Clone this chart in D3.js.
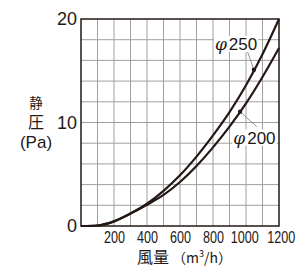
<!DOCTYPE html>
<html>
<head>
<meta charset="utf-8">
<script src="https://cdn.jsdelivr.net/npm/d3@7"></script>
<style>
body{margin:0;background:#fff;}
text{fill:#231815;}
</style>
</head>
<body>
<div id="chart"></div>
<script>
// 風量 (m3/h) vs 静圧 (Pa)
var flow = [0,100,200,300,400,500,600,700,800,900,1000,1100,1200];
var p250 = [0,0.05,0.45,1.2,2.15,3.4,4.9,6.7,8.75,11.0,13.6,16.6,20.0];
var p200 = [0,0.05,0.45,1.2,2.05,3.0,4.25,5.8,7.6,9.6,11.85,14.4,17.2];
var xTicks = [200,400,600,800,1000,1200];
var yTicks = [0,10,20];
var names = ["250","200"];
var markers = [[1048,15.1],[964,11.05]];

var svgWidth = 305, svgHeight = 280;
var margin = {top: 19, right: 26, bottom: 54, left: 81};
var width = svgWidth - margin.left - margin.right;
var height = svgHeight - margin.top - margin.bottom;

var xscale = d3.scaleLinear().domain([0,1200]).range([0,width]);
var yscale = d3.scaleLinear().domain([0,20]).range([height,0]);

var svg = d3.select("#chart").append("svg")
    .attr("width", svgWidth).attr("height", svgHeight);
var g = svg.append("g").attr("transform", `translate(${margin.left},${margin.top})`);

// grid
g.append("g").selectAll("line").data(d3.range(100,1200,100)).enter().append("line")
    .attr("x1", d=>xscale(d)).attr("x2", d=>xscale(d))
    .attr("y1", 0).attr("y2", height)
    .attr("stroke","#a0a0a0").attr("stroke-width",1);
g.append("g").selectAll("line").data(d3.range(2,20,2)).enter().append("line")
    .attr("y1", d=>yscale(d)).attr("y2", d=>yscale(d))
    .attr("x1", 0).attr("x2", width)
    .attr("stroke","#a0a0a0").attr("stroke-width",1);

g.append("rect").attr("width",width).attr("height",height)
    .attr("fill","none").attr("stroke","#231815").attr("stroke-width",1.5);

// axes labels (condensed digits)
var xAxis = d3.axisBottom(xscale).tickValues(xTicks).tickFormat(d3.format("d")).tickSize(0).tickPadding(5);
var xg = g.append("g").attr("transform",`translate(0,${height})`).call(xAxis);
xg.select(".domain").remove();
xg.selectAll("text").attr("font-family","'Liberation Sans',Arial,sans-serif")
    .attr("font-size","16.5px").attr("fill","#231815")
    .attr("textLength", d=>String(d).length*7.0).attr("lengthAdjust","spacingAndGlyphs")
    .attr("dx", d=> d==1200 ? "0.1em" : (d==1000 ? "-0.1em" : 0));

var yAxis = d3.axisLeft(yscale).tickValues(yTicks).tickFormat(d3.format("d")).tickSize(0).tickPadding(4);
var yg = g.append("g").call(yAxis);
yg.select(".domain").remove();
yg.selectAll("text").attr("font-family","'Liberation Sans',Arial,sans-serif")
    .attr("font-size","18px").attr("fill","#231815");

// curves
var line = d3.line().curve(d3.curveMonotoneX);
[p250,p200].forEach(function(p){
    g.append("path")
     .attr("d", line(flow.map((f,i)=>[xscale(f), yscale(p[i])])))
     .attr("fill","none").attr("stroke","#231815").attr("stroke-width",2.2);
});

// labels with leaders
var labelPos = [[940,17.6],[1051,8.55]];
var leaderEnd = [[1010,16.8],[1065,9.6]];
names.forEach(function(n,i){
    var lx = xscale(labelPos[i][0]), ly = yscale(labelPos[i][1]);
    var bg = g.append("rect").attr("fill","#fff");
    var t = g.append("text").attr("x",lx).attr("y",ly)
     .attr("text-anchor","middle").attr("dominant-baseline","central")
     .attr("font-family","'Liberation Sans',Arial,sans-serif").attr("font-size","17px");
    t.append("tspan").attr("font-family","'DejaVu Serif',serif").attr("font-style","italic").text("φ");
    t.append("tspan").attr("dx","2").text(n);
    var bb = t.node().getBBox();
    bg.attr("x",bb.x-1).attr("y",bb.y+2).attr("width",bb.width+2).attr("height",bb.height-4);
    g.append("line")
     .attr("x1", xscale(leaderEnd[i][0])).attr("y1", yscale(leaderEnd[i][1]))
     .attr("x2", xscale(markers[i][0])).attr("y2", yscale(markers[i][1]))
     .attr("stroke","#777").attr("stroke-width",0.8);
    g.append("circle").attr("cx",xscale(markers[i][0])).attr("cy",yscale(markers[i][1]))
     .attr("r",2.2).attr("fill","#231815");
});

// axis titles
var xt = svg.append("text").attr("x",137).attr("y",263)
    .attr("font-family","'Noto Sans CJK JP',sans-serif").attr("font-size","16px");
xt.append("tspan").text("風量");
xt.append("tspan").attr("font-size","14px").attr("dx","3").text("（m");
xt.append("tspan").attr("font-size","9px").attr("dy","-6").text("3");
xt.append("tspan").attr("font-size","14px").attr("dy","6").text("/h）");

svg.append("text").attr("x",36).attr("y",108).attr("text-anchor","middle")
    .attr("font-family","'Noto Sans CJK JP',sans-serif").attr("font-size","13.5px").text("静");
svg.append("text").attr("x",36).attr("y",128).attr("text-anchor","middle")
    .attr("font-family","'Noto Sans CJK JP',sans-serif").attr("font-size","16px").text("圧");
svg.append("text").attr("x",36).attr("y",148).attr("text-anchor","middle")
    .attr("font-family","'Liberation Sans',Arial,sans-serif").attr("font-size","17px").text("(Pa)");
</script>
</body>
</html>
